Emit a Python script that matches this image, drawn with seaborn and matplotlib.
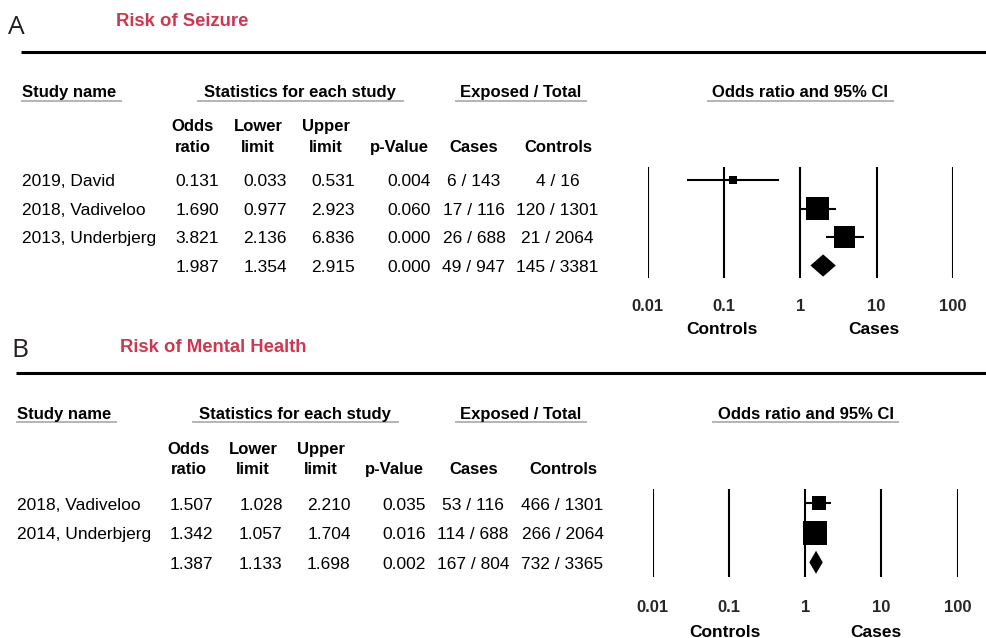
import matplotlib
matplotlib.use("Agg")
import matplotlib.pyplot as plt
import seaborn as sns
import numpy as np

# Panel A - risk of seizure
studies_a = ["2019, David", "2018, Vadiveloo", "2013, Underbjerg"]
or_a = [0.131, 1.690, 3.821]
lower_a = [0.033, 0.977, 2.136]
upper_a = [0.531, 2.923, 6.836]
p_a = [0.004, 0.060, 0.000]
cases_ev_a = [6, 17, 26]
cases_n_a = [143, 116, 688]
ctrl_ev_a = [4, 120, 21]
ctrl_n_a = [16, 1301, 2064]
weight_a = [6.2, 51.2, 42.6]
pooled_a = [1.987, 1.354, 2.915, 0.000]
pooled_counts_a = [49, 947, 145, 3381]

# Panel B - risk of mental health
studies_b = ["2018, Vadiveloo", "2014, Underbjerg"]
or_b = [1.507, 1.342]
lower_b = [1.028, 1.057]
upper_b = [2.210, 1.704]
p_b = [0.035, 0.016]
cases_ev_b = [53, 114]
cases_n_b = [116, 688]
ctrl_ev_b = [466, 266]
ctrl_n_b = [1301, 2064]
weight_b = [27.0, 73.0]
pooled_b = [1.387, 1.133, 1.698, 0.002]
pooled_counts_b = [167, 804, 732, 3365]

tick_vals = [0.01, 0.1, 1, 10, 100]
tick_labels = ["0.01", "0.1", "1", "10", "100"]

sns.set_style("white")
plt.rcParams["font.family"] = ["Liberation Sans", "DejaVu Sans"]

W, H = 987, 638
RED = "#d2354f"
GREY = "#a8a8a8"

fig = plt.figure(figsize=(W / 100, H / 100), dpi=100)
ax0 = fig.add_axes([0, 0, 1, 1])
ax0.set_xlim(0, W)
ax0.set_ylim(H, 0)
ax0.axis("off")


def txt(x, yc, s, size=12.5, bold=False, ha="left", color="black", family=None):
    # yc is the visual centre of the capitals, in pixels
    kw = dict(fontsize=size, fontweight="bold" if bold else "normal",
              ha=ha, va="baseline", color=color)
    if family:
        kw["family"] = family
    ax0.text(x, yc + 0.358 * size * 100 / 72, s, **kw)


def px_axes(left, right, top, bottom):
    return fig.add_axes([left / W, 1 - bottom / H, (right - left) / W, (bottom - top) / H])


def panel(letter, title, L):
    txt(L["letter_x"], L["letter_y"], letter, size=19, family=["Open Sans", "DejaVu Sans"],
        color="#231f20")
    txt(L["title_x"], L["title_y"], title, size=13.3, bold=True, color=RED)
    ax0.plot([L["rule_x"], W], [L["rule_y"]] * 2, color="black", lw=2.2, solid_capstyle="butt")

    # group headers and their grey underlines
    hy = L["head_y"]
    txt(L["name_x"], hy, "Study name", size=12, bold=True)
    txt(L["stats_c"], hy, "Statistics for each study", size=12, bold=True, ha="center")
    txt(L["exp_c"], hy, "Exposed / Total", size=12, bold=True, ha="center")
    txt(L["ci_c"], hy, "Odds ratio and 95% CI", size=12, bold=True, ha="center")
    for x1, x2 in L["underlines"]:
        ax0.plot([x1, x2], [hy + 9.5] * 2, color=GREY, lw=1.2, solid_capstyle="butt")

    # column headers
    s1, s2 = L["sub_y"]
    c = L["sub_c"]
    txt(c[0], s1, "Odds", size=12, bold=True, ha="center")
    txt(c[0], s2, "ratio", size=12, bold=True, ha="center")
    txt(c[1], s1, "Lower", size=12, bold=True, ha="center")
    txt(c[1], s2, "limit", size=12, bold=True, ha="center")
    txt(c[2], s1, "Upper", size=12, bold=True, ha="center")
    txt(c[2], s2, "limit", size=12, bold=True, ha="center")
    txt(c[3], s2, "p-Value", size=12, bold=True, ha="center")
    txt(c[4], s2, "Cases", size=12, bold=True, ha="center")
    txt(c[5], s2, "Controls", size=12, bold=True, ha="center")


def table_rows(L, names, ors, lows, ups, ps, cev, cn, kev, kn, pooled, pooled_counts):
    cols = L["num_r"]
    rows = L["rows"]
    for i, y in enumerate(rows):
        if i < len(names):
            name = names[i]
            vals = [ors[i], lows[i], ups[i], ps[i]]
            cs = f"{cev[i]} / {cn[i]}"
            ks = f"{kev[i]} / {kn[i]}"
        else:
            name = ""
            vals = pooled
            cs = f"{pooled_counts[0]} / {pooled_counts[1]}"
            ks = f"{pooled_counts[2]} / {pooled_counts[3]}"
        txt(L["name_x"], y, name)
        for x, v in zip(cols, vals):
            txt(x, y, f"{v:.3f}", ha="right")
        txt(L["cases_c"], y, cs, ha="center")
        txt(L["ctrl_c"], y, ks, ha="center")


def forest(L, ors, lows, ups, weights, pooled):
    n = len(ors)
    rows = L["rows"]
    top, bot = L["forest_tb"]
    step = (rows[-1] - rows[0]) / n
    m_top = (rows[0] - top) / step
    m_bot = (bot - rows[-1]) / step
    ax = px_axes(L["forest_lr"][0], L["forest_lr"][1], top, bot)
    ax.set_facecolor("none")
    ax.set_xscale("log")
    ax.set_xlim(tick_vals[0], tick_vals[-1])
    ax.set_ylim(n + m_bot, -m_top)
    for t in tick_vals:
        ax.axvline(t, color="black", lw=1.5, zorder=1)
    y = np.arange(n)
    ax.hlines(y, lows, ups, color="black", lw=1.5, zorder=2)
    sns.scatterplot(x=ors, y=y, size=weights, sizes=(0, 286), size_norm=(0, max(weights)),
                    marker="s", color="black", linewidth=0, legend=False, ax=ax, zorder=3)
    est, lo, hi = pooled[0], pooled[1], pooled[2]
    h = 0.39
    ax.fill([lo, est, hi, est], [n, n - h, n, n + h], color="black", lw=0, zorder=3)
    for s in ax.spines.values():
        s.set_visible(False)
    ax.set_yticks([])
    ax.set_xticks(tick_vals)
    ax.set_xticklabels(tick_labels, fontsize=12, fontweight="bold")
    ax.minorticks_off()
    ax.tick_params(axis="x", length=0, pad=L["tick_pad"])
    ax.set_xlabel("")
    ax.set_ylabel("")
    ly = L["lab_y"]
    txt(L["lab_x"][0], ly, "Controls", size=12.5, bold=True, ha="center")
    txt(L["lab_x"][1], ly, "Cases", size=12.5, bold=True, ha="center")


LA = dict(letter_x=8, letter_y=24.7, title_x=116, title_y=19.2, rule_x=21, rule_y=51.7,
          head_y=91, name_x=22, stats_c=300, exp_c=521, ci_c=800.5,
          underlines=[(21, 122), (197, 404), (455, 587), (707, 894)],
          sub_y=(125, 145.7), sub_c=[193, 258, 326, 399, 474, 558],
          rows=[180, 208.3, 237, 265.5], num_r=[219, 287, 355, 430.5],
          cases_c=474, ctrl_c=557.5,
          forest_lr=(647.7, 953), forest_tb=(166.7, 278.3), tick_pad=14.9,
          lab_y=327.7, lab_x=(721.7, 873.8))

LB = dict(letter_x=11, letter_y=348, title_x=120, title_y=345, rule_x=16, rule_y=372.7,
          head_y=412.7, name_x=17, stats_c=295.3, exp_c=521, ci_c=805.5,
          underlines=[(16, 117), (192, 399), (455, 587), (711.7, 899.3)],
          sub_y=(448.3, 467.7), sub_c=[188.5, 253, 321, 394, 474, 563.3],
          rows=[503.3, 532.7, 562.3], num_r=[213.3, 282.7, 350.7, 426],
          cases_c=473, ctrl_c=562.5,
          forest_lr=(652.7, 957.7), forest_tb=(489, 576.7), tick_pad=16.8,
          lab_y=630.7, lab_x=(724.5, 876.2))

panel("A", "Risk of Seizure", LA)
table_rows(LA, studies_a, or_a, lower_a, upper_a, p_a, cases_ev_a, cases_n_a,
           ctrl_ev_a, ctrl_n_a, pooled_a, pooled_counts_a)
forest(LA, or_a, lower_a, upper_a, weight_a, pooled_a)

panel("B", "Risk of Mental Health", LB)
table_rows(LB, studies_b, or_b, lower_b, upper_b, p_b, cases_ev_b, cases_n_b,
           ctrl_ev_b, ctrl_n_b, pooled_b, pooled_counts_b)
forest(LB, or_b, lower_b, upper_b, weight_b, pooled_b)

fig.savefig("out.png", dpi=100)
